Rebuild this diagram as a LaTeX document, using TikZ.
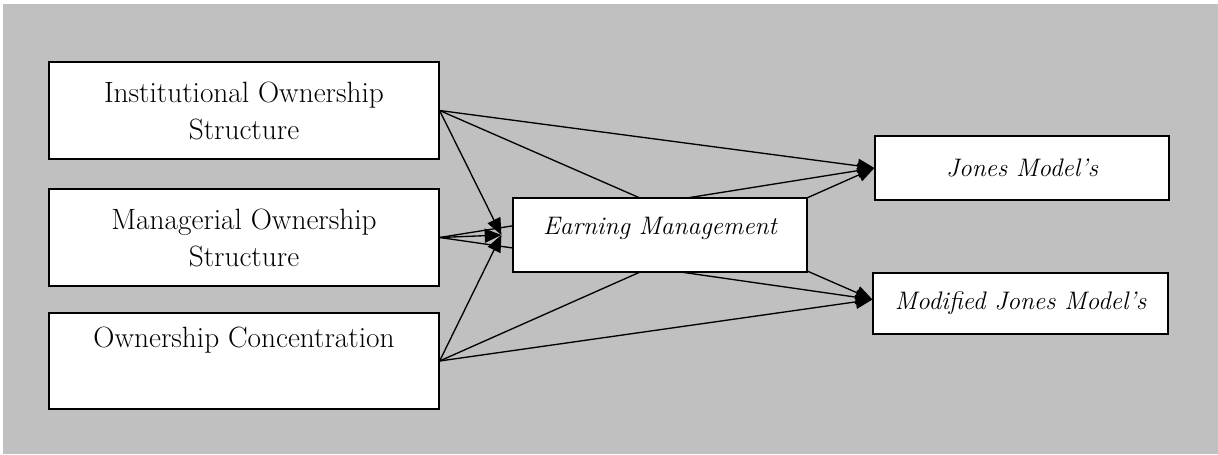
\documentclass[tikz,border=0pt]{standalone}
\usetikzlibrary{arrows.meta}
\definecolor{panel}{HTML}{C0C0C0}
\pgfdeclarelayer{backdrop}
\pgfdeclarelayer{links}
\pgfsetlayers{backdrop,links,main}
\begin{document}
\begin{tikzpicture}[x=0.75pt,y=-0.75pt,
  box/.style={draw=black, line width=0.9pt, fill=white, inner sep=0pt,
    align=center, font=\fontsize{22}{27.75}\selectfont},
  ibox/.style={box, font=\fontsize{19}{24}\selectfont\itshape},
  link/.style={line width=1pt, -{Triangle[length=12.5pt,width=10.5pt]}},
]
\useasboundingbox (0,0) rectangle (1218,454);
\begin{pgfonlayer}{backdrop}
  \fill[panel] (3,4) rectangle (1218,454);
\end{pgfonlayer}

% independent variables
\node[box, minimum width=292.5pt, minimum height=72.75pt] (inst) at (244,110.5)
  {Institutional Ownership\\Structure};
\node[box, minimum width=292.5pt, minimum height=72.75pt] (man) at (244,237.5)
  {Managerial Ownership\\Structure};
\node[box, minimum width=292.5pt, minimum height=72pt] (oc) at (244,361)
  {Ownership Concentration\\\strut};

% mediating and dependent variables
\node[ibox, minimum width=220.5pt, minimum height=55.5pt, text depth=14pt] (em) at (660,235)
  {Earning Management};
\node[ibox, minimum width=220.5pt, minimum height=48pt] (jones) at (1022,168)
  {Jones Model’s};
\node[ibox, minimum width=221.25pt, minimum height=45.75pt] (mod) at (1020.5,303.5)
  {Modified Jones Model’s};

\begin{pgfonlayer}{links}
  \foreach \src in {inst,man,oc} {
    \draw[link] (\src.east) -- ([xshift=-8.25pt]em.west);
    \draw[link] (\src.east) -- (jones.west);
    \draw[link] (\src.east) -- ([yshift=3pt]mod.west);
  }
\end{pgfonlayer}
\end{tikzpicture}
\end{document}
